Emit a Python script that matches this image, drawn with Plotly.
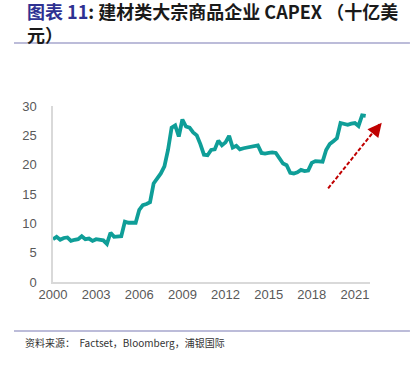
import plotly.graph_objects as go

years = [2000 + q * 0.25 for q in range(88)]
capex = [
    7.3, 7.7, 7.2, 7.5,
    7.6, 7.0, 7.2, 7.3,
    7.8, 7.3, 7.4, 7.0,
    7.3, 7.2, 7.1, 6.5,
    8.4, 7.7, 7.7, 7.8,
    10.3, 10.1, 10.1, 10.1,
    12.3, 13.1, 13.3, 13.6,
    16.8, 17.6, 18.5, 19.7,
    22.5, 26.3, 26.7, 24.8,
    27.7, 26.5, 26.3, 25.5,
    25.0, 23.5, 21.7, 21.6,
    22.5, 22.6, 24.1, 23.3,
    23.8, 24.9, 22.9, 23.2,
    22.6, 22.8, 22.9, 23.0,
    23.1, 23.3, 22.0, 21.9,
    22.0, 22.1, 22.0, 21.0,
    20.2, 19.9, 18.6, 18.5,
    18.7, 19.1, 18.9, 19.0,
    20.3, 20.6, 20.6, 20.5,
    22.5, 23.5, 24.0, 24.5,
    27.1, 26.9, 26.8, 27.0,
    27.1, 26.6, 28.4, 28.3,
]
x_ticks = [2000, 2003, 2006, 2009, 2012, 2015, 2018, 2021]
y_ticks = [0, 5, 10, 15, 20, 25, 30]

title_text = ("<b><span style='color:#2E3192'>图表 11</span>: "
              "建材类大宗商品企业 CAPEX （十亿美<br>元）</b>")
source_text = "资料来源：  Factset，Bloomberg，浦银国际"

fig = go.Figure()
fig.add_trace(go.Scatter(
    x=years, y=capex, mode="lines",
    line=dict(color="#0F9E98", width=3.8),
    showlegend=False, hoverinfo="skip",
))

axis_font = dict(family="Liberation Sans, Arial, sans-serif", size=13, color="#595959")
fig.update_layout(
    width=416, height=370,
    margin=dict(l=53, r=46, t=106, b=88),
    paper_bgcolor="white", plot_bgcolor="white",
    xaxis=dict(range=[2000, 2022.05], tickvals=x_ticks, ticktext=[str(v) for v in x_ticks],
               showgrid=False, zeroline=False, showline=True, linecolor="#D9D9D9",
               linewidth=1.5, ticks="", tickfont=axis_font),
    yaxis=dict(range=[0, 30], tickvals=y_ticks, showgrid=False, zeroline=False,
               showline=True, linecolor="#D9D9D9", linewidth=1.5, ticks="",
               ticklabelstandoff=12, tickfont=axis_font),
)

title_font = dict(family="Noto Sans CJK SC, sans-serif", size=18, color="#1a1a1a")
fig.add_annotation(text=title_text, xref="paper", yref="paper", x=-0.0883, y=1.477,
                   xanchor="left", yanchor="middle", align="left", showarrow=False,
                   font=title_font)
fig.add_annotation(text=source_text, xref="paper", yref="paper", x=-0.0946, y=-0.341,
                   xanchor="left", yanchor="middle", showarrow=False,
                   font=dict(family="Noto Sans CJK SC, sans-serif", size=10, color="#333333"))

rule_color = "#A6A6CC"
for yy in [1.358, -0.278]:
    fig.add_shape(type="line", xref="paper", yref="paper", x0=-0.123, x1=1.126,
                  y0=yy, y1=yy, line=dict(color=rule_color, width=1.5))

# trend arrow (paper coordinates)
arrow_start = (0.868, 0.532)
arrow_end = (1.030, 0.896)
fig.add_shape(type="line", xref="paper", yref="paper",
              x0=arrow_start[0], y0=arrow_start[1], x1=arrow_end[0], y1=arrow_end[1],
              line=dict(color="#C00000", width=2, dash="4px,2px"))
fig.add_annotation(x=1.037, y=0.905, xref="paper", yref="paper", text="",
                   showarrow=True, ax=-7, ay=8.6, arrowhead=2, arrowsize=1.4,
                   arrowwidth=2, arrowcolor="#C00000", standoff=0)

fig.write_html("out.html", config={"displayModeBar": False},
               post_script="document.body.style.margin='0';document.body.style.padding='0';")
